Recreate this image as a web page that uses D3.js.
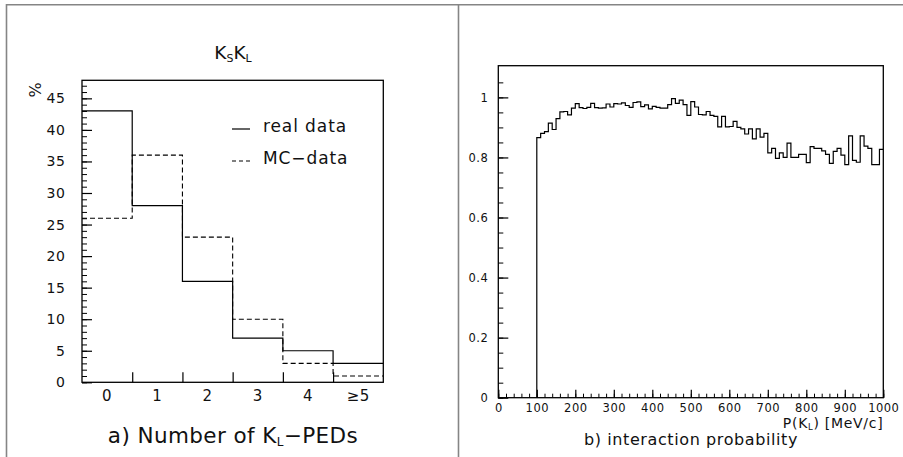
<!DOCTYPE html>
<html>
<head>
<meta charset="utf-8">
<script src="https://cdn.jsdelivr.net/npm/d3@7"></script>
<style>
  html, body { margin: 0; padding: 0; background: #fff; }
  svg text { font-family: "DejaVu Sans", sans-serif; fill: #111; }
</style>
</head>
<body>
<svg id="chart" width="903" height="457"></svg>
<script>
// ---------- data ----------
const pedCategories = ["0", "1", "2", "3", "4", "\u22655"];
const realData = [43, 28, 16, 7, 5, 3];
const mcData = [26, 36, 23, 10, 3, 1];
const yTicksLeft = [0, 5, 10, 15, 20, 25, 30, 35, 40, 45];

const momentumBinStart = d3.range(100, 1000, 10);
const interactionProb = [
  0.866, 0.880, 0.886, 0.914, 0.893, 0.929, 0.952, 0.953, 0.942, 0.964,
  0.979, 0.966, 0.963, 0.967, 0.980, 0.966, 0.964, 0.965, 0.978, 0.968,
  0.979, 0.978, 0.982, 0.973, 0.967, 0.983, 0.985, 0.969, 0.975, 0.962,
  0.970, 0.967, 0.964, 0.964, 0.976, 0.996, 0.980, 0.991, 0.976, 0.940,
  0.986, 0.968, 0.943, 0.942, 0.953, 0.940, 0.937, 0.902, 0.937, 0.902,
  0.903, 0.920, 0.900, 0.895, 0.878, 0.895, 0.862, 0.895, 0.868, 0.880,
  0.815, 0.830, 0.797, 0.815, 0.800, 0.848, 0.800, 0.800, 0.810, 0.810,
  0.783, 0.836, 0.830, 0.830, 0.822, 0.810, 0.780, 0.820, 0.830, 0.808,
  0.776, 0.872, 0.790, 0.784, 0.872, 0.838, 0.830, 0.776, 0.776, 0.827
];
const xTicksRight = d3.range(0, 1001, 100);
const yTicksRight = [0, 0.2, 0.4, 0.6, 0.8, 1];

// ---------- setup ----------
const svg = d3.select("#chart");

// outer page frame (gray)
const frame = svg.append("g").attr("stroke", "#858585").attr("stroke-width", 1.6).attr("fill", "none");
frame.append("line").attr("x1", 6).attr("x2", 903).attr("y1", 4.8).attr("y2", 4.8);
frame.append("line").attr("x1", 6.5).attr("x2", 6.5).attr("y1", 4).attr("y2", 457);
frame.append("line").attr("x1", 458.5).attr("x2", 458.5).attr("y1", 4).attr("y2", 457);

// ---------- left panel ----------
const L = { x0: 82, x1: 383.3, y0: 80.3, y1: 382.3 };
const xL = d3.scaleLinear().domain([0, 6]).range([L.x0, L.x1]);
const xLband = d3.scaleBand().domain(pedCategories).range([L.x0, L.x1]);
const yL = d3.scaleLinear().domain([0, 47.86]).range([L.y1, L.y0]);

const gL = svg.append("g");

// minor y ticks
gL.append("g").attr("transform", `translate(${L.x0},0)`)
  .call(d3.axisLeft(yL).tickValues(d3.range(0, 48, 1)).tickSize(-5).tickFormat(""))
  .call(g => g.select(".domain").remove())
  .call(g => g.selectAll("line").attr("stroke", "#000").attr("stroke-width", 1));
// major y ticks
gL.append("g").attr("transform", `translate(${L.x0},0)`)
  .call(d3.axisLeft(yL).tickValues(yTicksLeft).tickSize(-10).tickPadding(16.5).tickFormat(d3.format("d")))
  .call(g => g.select(".domain").remove())
  .call(g => g.selectAll("line").attr("stroke", "#000").attr("stroke-width", 1.2))
  .call(g => g.selectAll("text").attr("font-size", 14).attr("font-family", "DejaVu Sans").attr("fill", "#111").attr("letter-spacing", 0.6));

// x boundary ticks (pointing up)
gL.append("g").attr("transform", `translate(0,${L.y1})`)
  .call(d3.axisBottom(xL).tickValues([1, 2, 3, 4, 5]).tickSize(-10).tickFormat(""))
  .call(g => g.select(".domain").remove())
  .call(g => g.selectAll("line").attr("stroke", "#000").attr("stroke-width", 1.2));
// x category labels
gL.append("g").attr("transform", `translate(0,${L.y1})`)
  .call(d3.axisBottom(xLband).tickSize(0).tickPadding(8))
  .call(g => g.select(".domain").remove())
  .call(g => g.selectAll("text").attr("font-size", 15).attr("font-family", "DejaVu Sans").attr("fill", "#111").attr("letter-spacing", 0.5));

// histograms
const stepLine = d3.line().curve(d3.curveStepAfter);
const realPts = realData.map((v, i) => [xL(i), yL(v)]).concat([[xL(6), yL(realData[5])]]);
const mcPts = mcData.map((v, i) => [xL(i), yL(v)]).concat([[xL(6), yL(mcData[5])]]);
gL.append("path").attr("d", stepLine(mcPts)).attr("fill", "none")
  .attr("stroke", "#000").attr("stroke-width", 1.1).attr("stroke-dasharray", "5,3");
gL.append("path").attr("d", stepLine(realPts)).attr("fill", "none")
  .attr("stroke", "#000").attr("stroke-width", 1.2);

// plot frame
gL.append("rect").attr("x", L.x0).attr("y", L.y0).attr("width", L.x1 - L.x0).attr("height", L.y1 - L.y0)
  .attr("fill", "none").attr("stroke", "#000").attr("stroke-width", 1.3);

// title
const title = gL.append("text").attr("x", 233).attr("y", 58.5).attr("text-anchor", "middle").attr("font-size", 18.5);
title.append("tspan").text("K");
title.append("tspan").text("S").attr("font-size", 11).attr("dy", 3);
title.append("tspan").text("K").attr("dy", -3);
title.append("tspan").text("L").attr("font-size", 11).attr("dy", 3);

// percent label
gL.append("text").attr("transform", "translate(41,90) rotate(-90)").attr("text-anchor", "middle")
  .attr("font-size", 16).text("%");

// legend
const legend = gL.append("g");
legend.append("line").attr("x1", 232).attr("x2", 250).attr("y1", 129).attr("y2", 129)
  .attr("stroke", "#000").attr("stroke-width", 1.2);
legend.append("line").attr("x1", 232).attr("x2", 250).attr("y1", 161).attr("y2", 161)
  .attr("stroke", "#000").attr("stroke-width", 1.1).attr("stroke-dasharray", "4,3");
legend.append("text").attr("x", 263).attr("y", 132.3).attr("font-size", 17).attr("letter-spacing", 0.9).text("real data");
legend.append("text").attr("x", 263).attr("y", 164.3).attr("font-size", 17).attr("letter-spacing", 0.9).text("MC\u2212data");

// x-axis caption
const capL = gL.append("text").attr("x", 233).attr("y", 443).attr("text-anchor", "middle").attr("font-size", 21.5).attr("letter-spacing", 0.4);
capL.append("tspan").text("a) Number of K");
capL.append("tspan").text("L").attr("font-size", 12).attr("dy", 3);
capL.append("tspan").text("\u2212PEDs").attr("dy", -3);

// ---------- right panel ----------
const R = { x0: 498.3, x1: 883.3, y0: 65.7, y1: 397.7 };
const xR = d3.scaleLinear().domain([0, 1000]).range([R.x0, R.x1]);
const yR = d3.scaleLinear().domain([0, 1.1055]).range([R.y1, R.y0]);
const gR = svg.append("g");

// y minor ticks
gR.append("g").attr("transform", `translate(${R.x0},0)`)
  .call(d3.axisLeft(yR).tickValues(d3.range(0, 22).map(i => i * 0.05)).tickSize(-5).tickFormat(""))
  .call(g => g.select(".domain").remove())
  .call(g => g.selectAll("line").attr("stroke", "#000").attr("stroke-width", 1));
// y major ticks
gR.append("g").attr("transform", `translate(${R.x0},0)`)
  .call(d3.axisLeft(yR).tickValues(yTicksRight).tickSize(-10).tickPadding(10).tickFormat(d => d === 0 ? "0" : d === 1 ? "1" : d3.format(".1f")(d)))
  .call(g => g.select(".domain").remove())
  .call(g => g.selectAll("line").attr("stroke", "#000").attr("stroke-width", 1.2))
  .call(g => g.selectAll("text").attr("font-size", 11.5).attr("font-family", "DejaVu Sans").attr("fill", "#111").attr("letter-spacing", 0.5));

// x minor ticks
gR.append("g").attr("transform", `translate(0,${R.y1})`)
  .call(d3.axisBottom(xR).tickValues(d3.range(0, 1001, 20)).tickSize(-4).tickFormat(""))
  .call(g => g.select(".domain").remove())
  .call(g => g.selectAll("line").attr("stroke", "#000").attr("stroke-width", 1));
// x major ticks
gR.append("g").attr("transform", `translate(0,${R.y1})`)
  .call(d3.axisBottom(xR).tickValues(xTicksRight).tickSize(-8).tickPadding(6).tickFormat(d3.format("d")))
  .call(g => g.select(".domain").remove())
  .call(g => g.selectAll("line").attr("stroke", "#000").attr("stroke-width", 1.2))
  .call(g => g.selectAll("text").attr("font-size", 11.5).attr("font-family", "DejaVu Sans").attr("fill", "#111").attr("letter-spacing", 0.5));

// histogram
const probPts = [[xR(momentumBinStart[0]), yR(0)]]
  .concat(interactionProb.map((v, i) => [xR(momentumBinStart[i]), yR(v)]))
  .concat([[xR(1000), yR(interactionProb[interactionProb.length - 1])]]);
gR.append("path").attr("d", stepLine(probPts)).attr("fill", "none")
  .attr("stroke", "#000").attr("stroke-width", 1.2);

// frame
gR.append("rect").attr("x", R.x0).attr("y", R.y0).attr("width", R.x1 - R.x0).attr("height", R.y1 - R.y0)
  .attr("fill", "none").attr("stroke", "#000").attr("stroke-width", 1.3);

// axis title
const capR1 = gR.append("text").attr("x", R.x1).attr("y", 427.5).attr("text-anchor", "end").attr("font-size", 14).attr("letter-spacing", 0.7);
capR1.append("tspan").text("P(K");
capR1.append("tspan").text("L").attr("font-size", 8.5).attr("dy", 2);
capR1.append("tspan").text(") [MeV/c]").attr("dy", -2);

gR.append("text").attr("x", 691).attr("y", 444.5).attr("text-anchor", "middle").attr("font-size", 16)
  .attr("letter-spacing", 0.6).text("b) interaction probability");
</script>
</body>
</html>
